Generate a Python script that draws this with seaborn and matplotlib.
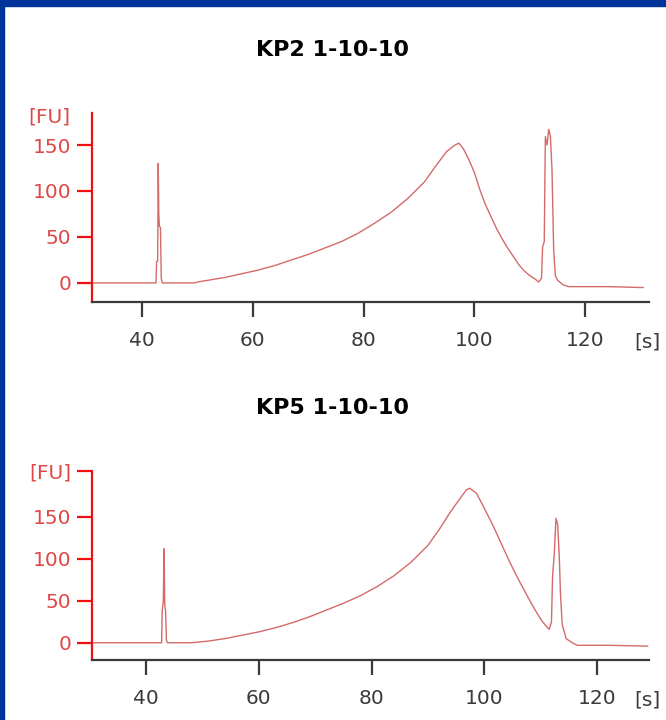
import matplotlib
matplotlib.use("Agg")
import matplotlib.pyplot as plt
import seaborn as sns
import pandas as pd
from matplotlib.patches import Rectangle

sns.set_theme(style="white")
plt.rcParams["font.family"] = ["DejaVu Sans"]

# ---- data ----
kp2_time = [31.0, 42.55, 42.65, 42.85, 42.95, 43.05, 43.15, 43.35, 43.5, 43.7, 49.5, 50.0,
            52.0, 55.0, 58.0, 61.0, 64.0, 67.0, 70.0, 73.0, 76.0, 79.0, 82.0, 85.0, 88.0,
            91.0, 93.0, 95.0, 96.5, 97.2, 98.0, 99.0, 100.0, 101.0, 102.0, 103.0, 104.0,
            105.0, 106.0, 107.0, 108.0, 109.0, 110.0, 111.0, 111.6, 112.1, 112.3, 112.6,
            112.8, 113.1, 113.4, 113.7, 114.0, 114.3, 114.6, 115.0, 116.0, 117.0, 124.0, 130.5]
kp2_fu = [0, 0, 23, 24, 130, 75, 62, 60, 5, 0, 0, 1,
          3, 6, 10, 14, 19, 25, 31, 38, 45, 54, 65, 77, 92,
          110, 127, 143, 150, 152, 146, 134, 120, 101, 85, 72, 59,
          48, 38, 29, 20, 13, 8, 4, 1, 5, 39, 45,
          159, 150, 167, 160, 123, 36, 8, 3, -2, -4, -4, -5]

kp5_time = [30.5, 42.75, 42.85, 43.05, 43.2, 43.3, 43.45, 43.6, 43.8, 48.0, 51.0, 54.0,
            57.0, 60.0, 63.0, 66.0, 69.0, 72.0, 75.0, 78.0, 81.0, 84.0, 87.0, 90.0, 92.0,
            94.0, 95.5, 96.8, 97.4, 98.6, 100.0, 101.5, 103.0, 104.5, 106.0, 107.5, 109.0,
            110.2, 111.2, 111.5, 111.9, 112.1, 112.4, 112.7, 113.0, 113.3, 113.5, 113.8,
            114.5, 115.6, 116.5, 122.0, 129.0]
kp5_fu = [0, 0, 38, 50, 112, 45, 38, 3, 0, 0, 2, 5,
          9, 13, 18, 24, 31, 39, 47, 56, 67, 80, 96, 116, 135,
          156, 170, 182, 184, 178, 160, 140, 118, 96, 76, 57, 39,
          26, 18, 16, 25, 80, 106, 148, 141, 100, 58, 22,
          5, 0, -3, -3, -4]

x_ticks = [40, 60, 80, 100, 120]
y_ticks = [0, 50, 100, 150]
titles = ["KP2 1-10-10", "KP5 1-10-10"]

LINE = "#d46a6a"
RED = "#ee1111"
REDTXT = "#e04848"
DARK = "#3a3a3a"
FS = 14.5

fig = plt.figure(figsize=(6.66, 7.2), dpi=100)
fig.patch.set_facecolor("white")

# blue frame (top and left)
fig.add_artist(Rectangle((0, 1 - 6 / 720), 1, 6 / 720, transform=fig.transFigure,
                         color="#003399", zorder=10))
fig.add_artist(Rectangle((0, 0), 4 / 666, 1, transform=fig.transFigure,
                         color="#003399", zorder=10))

ax1 = fig.add_axes([92 / 666, 1 - 302 / 720, 557 / 666, 189 / 720])
ax2 = fig.add_axes([92 / 666, 1 - 660 / 720, 557 / 666, 189 / 720])

panels = [
    (ax1, kp2_time, kp2_fu, (31.0, 131.5), (-20.7, 184.8), False, 1 - 50 / 720),
    (ax2, kp5_time, kp5_fu, (30.4, 129.2), (-20.5, 204.5), True, 1 - 408 / 720),
]

for (ax, t, fu, xl, yl, fu_tick, ty), title in zip(panels, titles):
    df = pd.DataFrame({"time": t, "fu": fu})
    sns.lineplot(data=df, x="time", y="fu", ax=ax, color=LINE, linewidth=1.0,
                 estimator=None, sort=False)
    ax.set_xlim(*xl)
    ax.set_ylim(*yl)
    ax.set_xlabel("")
    ax.set_ylabel("")
    for s in ("top", "right"):
        ax.spines[s].set_visible(False)
    ax.spines["left"].set_color(RED)
    ax.spines["left"].set_linewidth(1.6)
    ax.spines["bottom"].set_color(DARK)
    ax.spines["bottom"].set_linewidth(1.6)
    ax.set_xticks(x_ticks)
    ax.set_xticklabels([str(v) for v in x_ticks])
    if fu_tick:
        ax.set_yticks(y_ticks + [yl[1]])
        ax.set_yticklabels([str(v) for v in y_ticks] + ["[FU]"])
    else:
        ax.set_yticks(y_ticks)
        ax.set_yticklabels([str(v) for v in y_ticks])
        ax.annotate("[FU]", xy=(0, 180), xycoords=("axes fraction", "data"),
                    xytext=(-15.5, 0), textcoords="offset points",
                    ha="right", va="center", fontsize=FS, color=REDTXT)
    ax.tick_params(axis="x", direction="out", length=11, width=1.6, color=DARK,
                   labelcolor=DARK, labelsize=FS, pad=10, bottom=True)
    ax.tick_params(axis="y", direction="out", length=11, width=1.6, color=RED,
                   labelcolor=REDTXT, labelsize=FS, pad=4, left=True)
    ax.annotate("[s]", xy=(1.0, 0), xycoords="axes fraction",
                xytext=(-1, -29), textcoords="offset points",
                ha="center", va="center", fontsize=FS, color=DARK)
    ax.grid(False)
    ax.set_facecolor("white")
    fig.text(0.5, ty, title, ha="center", va="center", fontsize=16,
             fontweight="bold", color="black")

fig.savefig("out.png", dpi=100, facecolor="white")
